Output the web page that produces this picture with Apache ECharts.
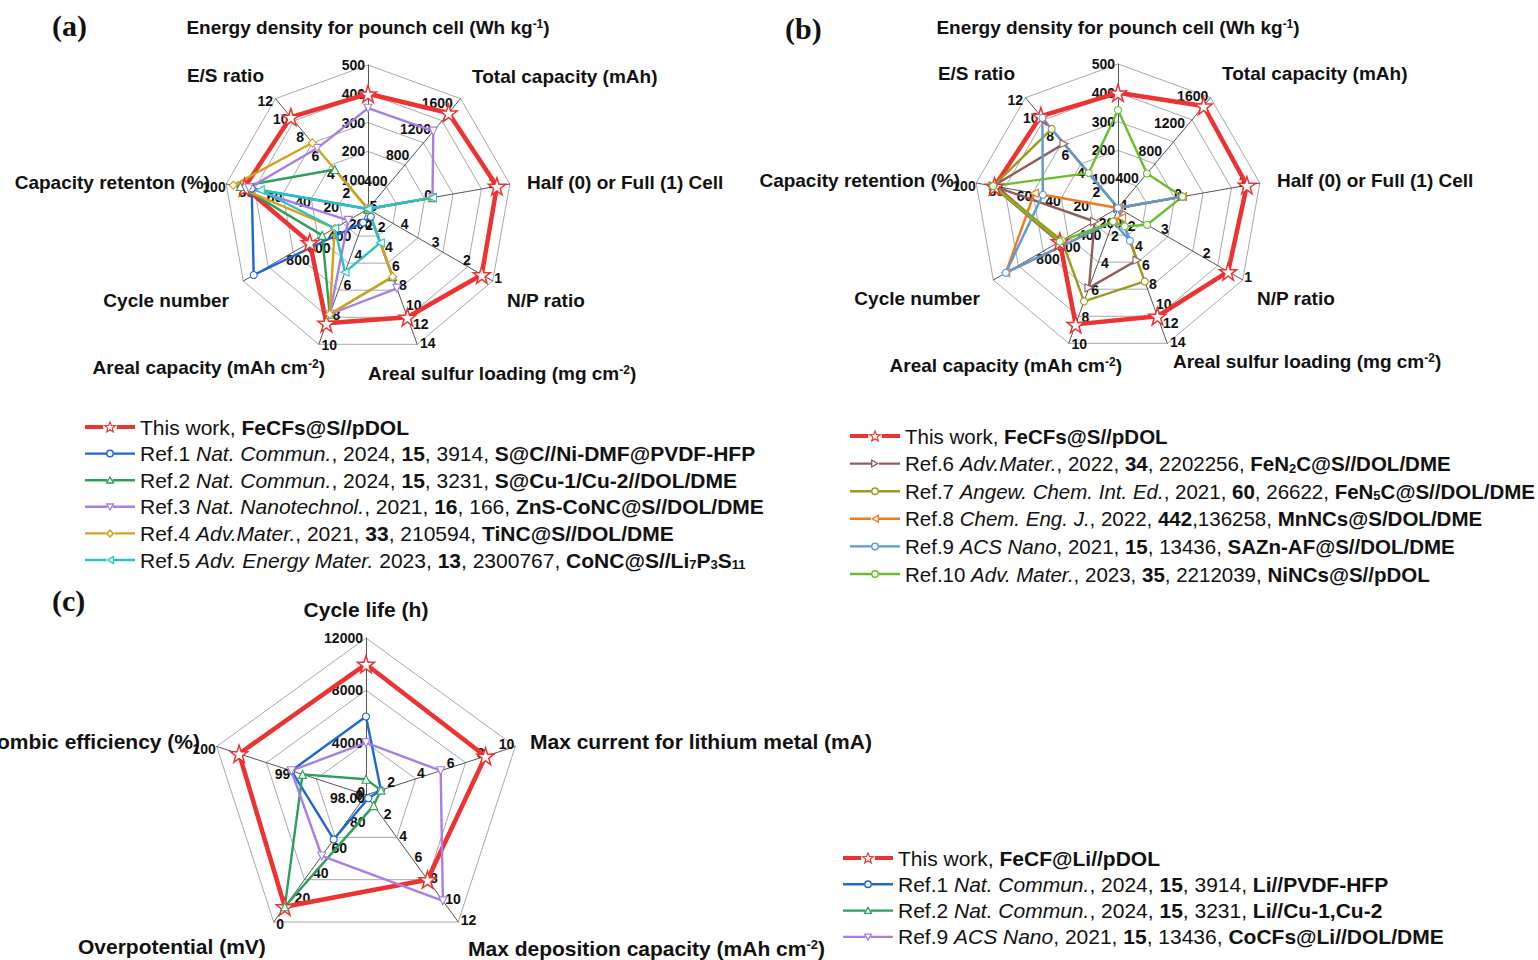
<!DOCTYPE html>
<html><head><meta charset="utf-8">
<script src="https://cdn.jsdelivr.net/npm/echarts@6/dist/echarts.min.js"></script>
<style>html,body{margin:0;padding:0;background:#fff}#c{width:1538px;height:960px}</style>
</head><body><div id="c"></div>
<script>
// ================= DATA =================
// axis order (clockwise from top) for panels (a) and (b):
// Energy density, Total capacity, Half/Full, N/P, Areal sulfur loading, Areal capacity, Cycle number, Capacity retention, E/S
const axisNamesA = ['Energy density for pounch cell (Wh kg{sup|-1})', 'Total capacity (mAh)', 'Half (0) or Full (1) Cell', 'N/P ratio',
  'Areal sulfur loading (mg cm{sup|-2})', 'Areal capacity (mAh cm{sup|-2})', 'Cycle number', 'Capacity retenton (%)', 'E/S ratio'];
const axisNamesB = ['Energy density for pounch cell (Wh kg{sup|-1})', 'Total capacity (mAh)', 'Half (0) or Full (1) Cell', 'N/P ratio',
  'Areal sulfur loading (mg cm{sup|-2})', 'Areal capacity (mAh cm{sup|-2})', 'Cycle number', 'Capacity retention (%)', 'E/S ratio'];
// min = centre value, max = outer value (min > max means reversed axis)
const minA = [0, 0, -1, 5, 0, 1, 0, 0, 0];
const maxA = [500, 1700, 1.2, 1, 14, 10, 1200, 100, 12];
const ticksA = [[100,200,300,400,500],[400,800,1200,1600],[0,1],[5,4,3,2,1],[2,4,6,8,10,12,14],[2,4,6,8,10],[200,400,600,800,1000],[20,40,60,80,100],[2,4,6,8,10,12]];
const stepsA = [100, 400, 1, 1, 2, 1, 200, 20, 2];

const minB = [0, 0, -1, 4, 0, 0, 0, 0, 0];
const maxB = [500, 1600, 1.2, 1, 14, 10, 1200, 100, 12];
const ticksB = [[100,200,300,400,500],[400,800,1200,1600],[0,1],[4,3,2,1],[2,4,6,8,10,12,14],[2,4,6,8,10],[200,400,600,800,1000],[20,40,60,80,100],[2,4,6,8,10,12]];
const stepsB = [100, 400, 1, 1, 2, 2, 200, 20, 2];

const thisWorkA = [400, 1480, 1, 1.35, 11.2, 8.6, 560, 87, 10];
const ref1A = [0, 0, 0, 5, 0.8, 1.9, 1100, 82, 0];
const ref2A = [0, 0, 0, 5, 7, 8, 440, 90, 4.3];
const ref3A = [350, 1200, 0, 5, 8.2, 8, 190, 84, 6.6];
const ref4A = [0, 0, 0, 5, 7, 8, 320, 95, 7.2];
const ref5A = [0, 0, 0, 5, 3.5, 5.2, 320, 76, 0];

const thisWorkB = [400, 1480, 1, 1.35, 11.2, 8.6, 560, 87, 10];
const ref6B = [0, 0, 0, 4, 5.4, 5.9, 225, 88, 7];
const ref7B = [0, 0, 0, 4, 7.6, 6.9, 540, 88, 8.6];
const ref8B = [0, 0, 0, 4, 1, 1, 1080, 59, 0];
const ref9B = [0, 0, 0, 4, 3.4, 1, 1080, 53, 9.8];
const ref10B = [340, 500, 0, 3.3, 1.9, 1, 560, 88, 3.8];

// panel (c) axes clockwise: Cycle life, Max current, Max deposition capacity, Overpotential, Coulombic efficiency
const axisNamesC = ['Cycle life (h)', 'Max current for lithium metal (mA)', 'Max deposition capacity (mAh cm{sup|-2})', 'Overpotential (mV)', 'Coulombic efficiency (%)'];
const minC = [0, 0, 0, 100, 98];
const maxC = [12000, 10, 12, 0, 100];
const ticksC = [[0,4000,8000,12000],[0,2,4,6,8,10],[2,4,6,8,10,12],[80,60,40,20,0],[98,99,100]];
const tickTextC = [null, null, null, null, ['98.00','99','100']];
const stepsC = [4000, 2, 2, 20, 1];

const thisWorkC = [10000, 8, 8, 12, 99.7];
const ref1C = [6000, 1, 0.3, 65, 99.0];
const ref2C = [1200, 1, 1, 12, 98.85];
const ref9C = [4000, 5, 10, 52, 99.0];

const legendA = [
  'This work, {b|FeCFs@S//pDOL}',
  'Ref.1 {i|Nat. Commun.}, 2024, {b|15}, 3914, {b|S@C//Ni-DMF@PVDF-HFP}',
  'Ref.2 {i|Nat. Commun.}, 2024, {b|15}, 3231, {b|S@Cu-1/Cu-2//DOL/DME}',
  'Ref.3 {i|Nat. Nanotechnol.}, 2021, {b|16}, 166, {b|ZnS-CoNC@S//DOL/DME}',
  'Ref.4 {i|Adv.Mater.}, 2021, {b|33}, 210594, {b|TiNC@S//DOL/DME}',
  'Ref.5 {i|Adv. Energy Mater.} 2023, {b|13}, 2300767, {b|CoNC@S//Li}{bs|7}{b|P}{bs|3}{b|S}{bs|11}'
];
const legendB = [
  'This work, {b|FeCFs@S//pDOL}',
  'Ref.6 {i|Adv.Mater.}, 2022, {b|34}, 2202256, {b|FeN}{bs|2}{b|C@S//DOL/DME}',
  'Ref.7 {i|Angew. Chem. Int. Ed.}, 2021, {b|60}, 26622, {b|FeN}{bs|5}{b|C@S//DOL/DME}',
  'Ref.8 {i|Chem. Eng. J.}, 2022, {b|442},136258, {b|MnNCs@S/DOL/DME}',
  'Ref.9 {i|ACS Nano}, 2021, {b|15}, 13436, {b|SAZn-AF@S//DOL/DME}',
  'Ref.10 {i|Adv. Mater.}, 2023, {b|35}, 2212039, {b|NiNCs@S//pDOL}'
];
const legendC = [
  'This work, {b|FeCF@Li//pDOL}',
  'Ref.1 {i|Nat. Commun.}, 2024, {b|15}, 3914, {b|Li//PVDF-HFP}',
  'Ref.2 {i|Nat. Commun.}, 2024, {b|15}, 3231, {b|Li//Cu-1,Cu-2}',
  'Ref.9 {i|ACS Nano}, 2021, {b|15}, 13436, {b|CoCFs@Li//DOL/DME}'
];

// ================= STYLE / LAYOUT =================
const FONT = '"Liberation Sans", Arial, Helvetica, sans-serif';
const SERIF = '"Liberation Serif", "Times New Roman", serif';
const RED = '#ee3131';
const GRID = '#a8a8a8', SPOKE = '#555555';

const panels = [
  { center: [368, 209], radius: 144, split: 5, mins: minA, maxs: maxA, ticks: ticksA, steps: stepsA, texts: null,
    names: axisNamesA, nameSize: 19, legendSize: 21,
    namePos: [[368,27,'center'],[472,76,'left'],[527,182,'left'],[507,300,'left'],[368,373,'left'],[325,367,'right'],[229,300,'right'],[210,182,'right'],[264,75,'right']],
    series: [
      {id:'a0', v: thisWorkA, color: RED, mark:'star', thick:true, text: legendA[0]},
      {id:'a1', v: ref1A, color:'#1d67cf', mark:'circle', text: legendA[1]},
      {id:'a2', v: ref2A, color:'#2e9e5b', mark:'triangle', text: legendA[2]},
      {id:'a3', v: ref3A, color:'#a77de6', mark:'triangleDown', text: legendA[3]},
      {id:'a4', v: ref4A, color:'#d5a01c', mark:'diamond', text: legendA[4]},
      {id:'a5', v: ref5A, color:'#24c3c6', mark:'triangleLeft', text: legendA[5]}
    ],
    legend: {left: 85, top: 416, gap: 4.6}
  },
  { center: [1118, 208], radius: 144, split: 5, mins: minB, maxs: maxB, ticks: ticksB, steps: stepsB, texts: null,
    names: axisNamesB, nameSize: 19, legendSize: 20.5,
    namePos: [[1118,27,'center'],[1222,73,'left'],[1277,180,'left'],[1257,298,'left'],[1173,361,'left'],[1122,365,'right'],[980,298,'right'],[960,180,'right'],[1015,73,'right']],
    series: [
      {id:'b0', v: thisWorkB, color: RED, mark:'star', thick:true, text: legendB[0]},
      {id:'b1', v: ref6B, color:'#8e5e5e', mark:'triangleRight', text: legendB[1]},
      {id:'b2', v: ref7B, color:'#9c9a1e', mark:'circle', text: legendB[2]},
      {id:'b3', v: ref8B, color:'#f27a1a', mark:'triangleLeft', text: legendB[3]},
      {id:'b4', v: ref9B, color:'#5b9bd5', mark:'circle', text: legendB[4]},
      {id:'b5', v: ref10B, color:'#6cbd2e', mark:'circle', text: legendB[5]}
    ],
    legend: {left: 850, top: 425, gap: 5.6}
  },
  { center: [366, 795], radius: 157, split: 3, mins: minC, maxs: maxC, ticks: ticksC, steps: stepsC, texts: tickTextC,
    names: axisNamesC, nameSize: 21, legendSize: 21,
    namePos: [[366,609,'center'],[530,741,'left'],[468,948,'left'],[78,946,'left'],[200,741,'right']],
    series: [
      {id:'c0', v: thisWorkC, color: RED, mark:'star', thick:true, text: legendC[0]},
      {id:'c1', v: ref1C, color:'#1d67cf', mark:'circle', text: legendC[1]},
      {id:'c2', v: ref2C, color:'#2e9e5b', mark:'triangle', text: legendC[2]},
      {id:'c3', v: ref9C, color:'#a77de6', mark:'triangleDown', text: legendC[3]}
    ],
    legend: {left: 843, top: 847, gap: 4.3}
  }
];

const STAR = 'path://M50,0 L61.8,35.1 L98.1,35.1 L68.8,56.9 L79.4,90.5 L50,70 L20.6,90.5 L31.2,56.9 L1.9,35.1 L38.2,35.1 Z';
function symbolOf(kind) {
  switch (kind) {
    case 'star': return {symbol: STAR, symbolRotate: 0, symbolSize: 17};
    case 'circle': return {symbol: 'circle', symbolRotate: 0, symbolSize: 7};
    case 'triangle': return {symbol: 'triangle', symbolRotate: 0, symbolSize: 8};
    case 'triangleDown': return {symbol: 'triangle', symbolRotate: 180, symbolSize: 8};
    case 'triangleLeft': return {symbol: 'triangle', symbolRotate: 90, symbolSize: 8};
    case 'triangleRight': return {symbol: 'triangle', symbolRotate: -90, symbolSize: 8};
    case 'diamond': return {symbol: 'diamond', symbolRotate: 0, symbolSize: 8};
  }
}
// legend icon: line + hollow marker (ring made with opposite winding), 50x14 box
function ringPath(pts, cx, cy, k) {
  const o = 'M' + pts.map(p => p[0].toFixed(2) + ',' + p[1].toFixed(2)).join(' L') + ' Z ';
  const inner = pts.map(p => [cx + (p[0] - cx) * k, cy + (p[1] - cy) * k]).reverse();
  return o + 'M' + inner.map(p => p[0].toFixed(2) + ',' + p[1].toFixed(2)).join(' L') + ' Z ';
}
function legendIcon(kind, thick) {
  const h = thick ? 2 : 1.2;
  const y0 = 7 - h, y1 = 7 + h;
  const seg = (a, b) => `M${a},${y0} L${b},${y0} L${b},${y1} L${a},${y1} Z `;
  let m, l, r;
  if (kind === 'star') {
    const pts = [];
    for (let q = 0; q < 10; q++) {
      const ang = q * Math.PI / 5, rr = q % 2 === 0 ? 7.2 : 3.0;
      pts.push([25 + rr * Math.sin(ang), 7.4 - rr * Math.cos(ang)]);
    }
    m = ringPath(pts, 25, 7.4, 0.55); l = 18.2; r = 31.8;
  } else if (kind === 'circle') {
    m = 'M21,7 A4,4 0 1,1 29,7 A4,4 0 1,1 21,7 Z M22.5,7 A2.5,2.5 0 1,0 27.5,7 A2.5,2.5 0 1,0 22.5,7 Z ';
    l = 21; r = 29;
  } else if (kind === 'triangle') {
    m = ringPath([[25,2.5],[29.5,10.5],[20.5,10.5]], 25, 7.8, 0.5); l = 22.2; r = 27.8;
  } else if (kind === 'triangleDown') {
    m = ringPath([[20.5,3.5],[29.5,3.5],[25,11.5]], 25, 6.2, 0.5); l = 22.2; r = 27.8;
  } else if (kind === 'triangleLeft') {
    m = ringPath([[21,7],[29,2.5],[29,11.5]], 26.3, 7, 0.5); l = 21; r = 29;
  } else if (kind === 'triangleRight') {
    m = ringPath([[21,2.5],[29,7],[21,11.5]], 23.7, 7, 0.5); l = 21; r = 29;
  } else {
    m = ringPath([[25,2.5],[29.5,7],[25,11.5],[20.5,7]], 25, 7, 0.5); l = 20.5; r = 29.5;
  }
  return 'path://M0,0 M50,14 ' + seg(0, l) + seg(r, 50) + m;
}

function ecOrder(n) { const o = [0]; for (let k = n - 1; k >= 1; k--) o.push(k); return o; }
function makeFormatter(tv, texts, ticks) {
  return function (v) {
    for (let k = 0; k < tv.length; k++) {
      if (Math.abs(v - tv[k]) < 1e-6 * Math.max(1, Math.abs(tv[k]))) return texts ? texts[k] : String(ticks[k]);
    }
    return '';
  };
}

const radars = [], series = [], legends = [], graphics = [];
function richFor(size) {
  return {
    b: {fontWeight: 'bold', fontSize: size, fontFamily: FONT, color: '#111', lineHeight: 22},
    i: {fontStyle: 'italic', fontSize: size, fontFamily: FONT, color: '#111', lineHeight: 22},
    bs: {fontWeight: 'bold', fontSize: 13, fontFamily: FONT, color: '#111', lineHeight: 10, verticalAlign: 'bottom'}
  };
}

panels.forEach(p => {
  const n = p.mins.length;
  const ord = ecOrder(n);
  const rev = p.mins.map((m, i) => m > p.maxs[i]);
  const tf = (v, i) => rev[i] ? -v : v;
  const mainIdx = radars.length;
  radars.push({
    center: p.center, radius: p.radius, startAngle: 90, shape: 'polygon', splitNumber: p.split, silent: true,
    indicator: ord.map(i => ({name: 'ax' + i, min: tf(p.mins[i], i), max: tf(p.maxs[i], i)})),
    axisName: {show: false},
    splitLine: {lineStyle: {color: GRID, width: 1}},
    splitArea: {show: false},
    axisLine: {lineStyle: {color: SPOKE, width: 1}},
    axisTick: {show: false},
    axisLabel: {show: false}
  });
  ord.forEach(i => {
    const tv = p.ticks[i].map(v => tf(v, i));
    const lo = tf(p.mins[i], i), hi = tf(p.maxs[i], i);
    const top = Math.max.apply(null, tv);
    const ns = Math.round((top - lo) / p.steps[i]);
    radars.push({
      center: p.center, radius: p.radius * (top - lo) / (hi - lo), startAngle: 90, shape: 'polygon', splitNumber: ns, silent: true,
      indicator: ord.map(k => k === i
        ? {name: '', min: lo, max: top, axisLabel: {show: true, formatter: makeFormatter(tv, p.texts ? p.texts[i] : null, p.ticks[i])}}
        : {name: '', min: 0, max: 1}),
      axisName: {show: false}, splitLine: {show: false}, splitArea: {show: false},
      axisLine: {show: false}, axisTick: {show: false},
      axisLabel: {show: false, color: '#111', fontSize: 14, fontWeight: 'bold', fontFamily: FONT, margin: 3}
    });
  });
  p.series.forEach(s => {
    const sy = symbolOf(s.mark);
    series.push({
      type: 'radar', name: s.id, radarIndex: mainIdx,
      symbol: sy.symbol, symbolSize: sy.symbolSize, symbolRotate: sy.symbolRotate,
      color: s.color,
      itemStyle: {color: '#ffffff', borderColor: s.color, borderWidth: s.thick ? 1.5 : 1.1},
      lineStyle: {color: s.color, width: s.thick ? 4.5 : 2.4},
      emphasis: {disabled: true},
      data: [{name: s.id, value: ord.map(i => tf(s.v[i], i))}]
    });
  });
  const textMap = {};
  p.series.forEach(s => { textMap[s.id] = s.text; });
  legends.push({
    orient: 'vertical', left: p.legend.left, top: p.legend.top, itemGap: p.legend.gap,
    itemWidth: 50, itemHeight: 14, selectedMode: false, padding: 0,
    data: p.series.map(s => ({name: s.id, icon: legendIcon(s.mark, s.thick), itemStyle: {color: s.color, borderWidth: 0}})),
    formatter: name => textMap[name],
    textStyle: {fontSize: p.legendSize, fontFamily: FONT, color: '#111', lineHeight: 22, rich: richFor(p.legendSize)}
  });
  p.names.forEach((t, i) => {
    const pos = p.namePos[i];
    graphics.push({
      type: 'text', x: pos[0], y: pos[1], silent: true,
      style: {
        text: t, font: 'bold ' + p.nameSize + 'px ' + FONT, fill: '#111',
        textAlign: pos[2], textVerticalAlign: 'middle', align: pos[2], verticalAlign: 'middle',
        rich: {sup: {fontSize: Math.round(p.nameSize * 0.62), fontWeight: 'bold', fontFamily: FONT, fill: '#111', verticalAlign: 'top', lineHeight: 12}}
      }
    });
  });
});

const panelLetters = [['(a)', 52, 25], ['(b)', 785, 28], ['(c)', 52, 600]];
panelLetters.forEach(l => {
  graphics.push({type: 'text', x: l[1], y: l[2], silent: true,
    style: {text: l[0], font: 'bold 30px ' + SERIF, fill: '#111', textAlign: 'left', textVerticalAlign: 'middle', align: 'left', verticalAlign: 'middle'}});
});

const chart = echarts.init(document.getElementById('c'), null, {renderer: 'svg'});
chart.setOption({
  animation: false,
  backgroundColor: '#ffffff',
  textStyle: {fontFamily: FONT},
  radar: radars,
  legend: legends,
  series: series,
  graphic: graphics
});
</script>
</body></html>
